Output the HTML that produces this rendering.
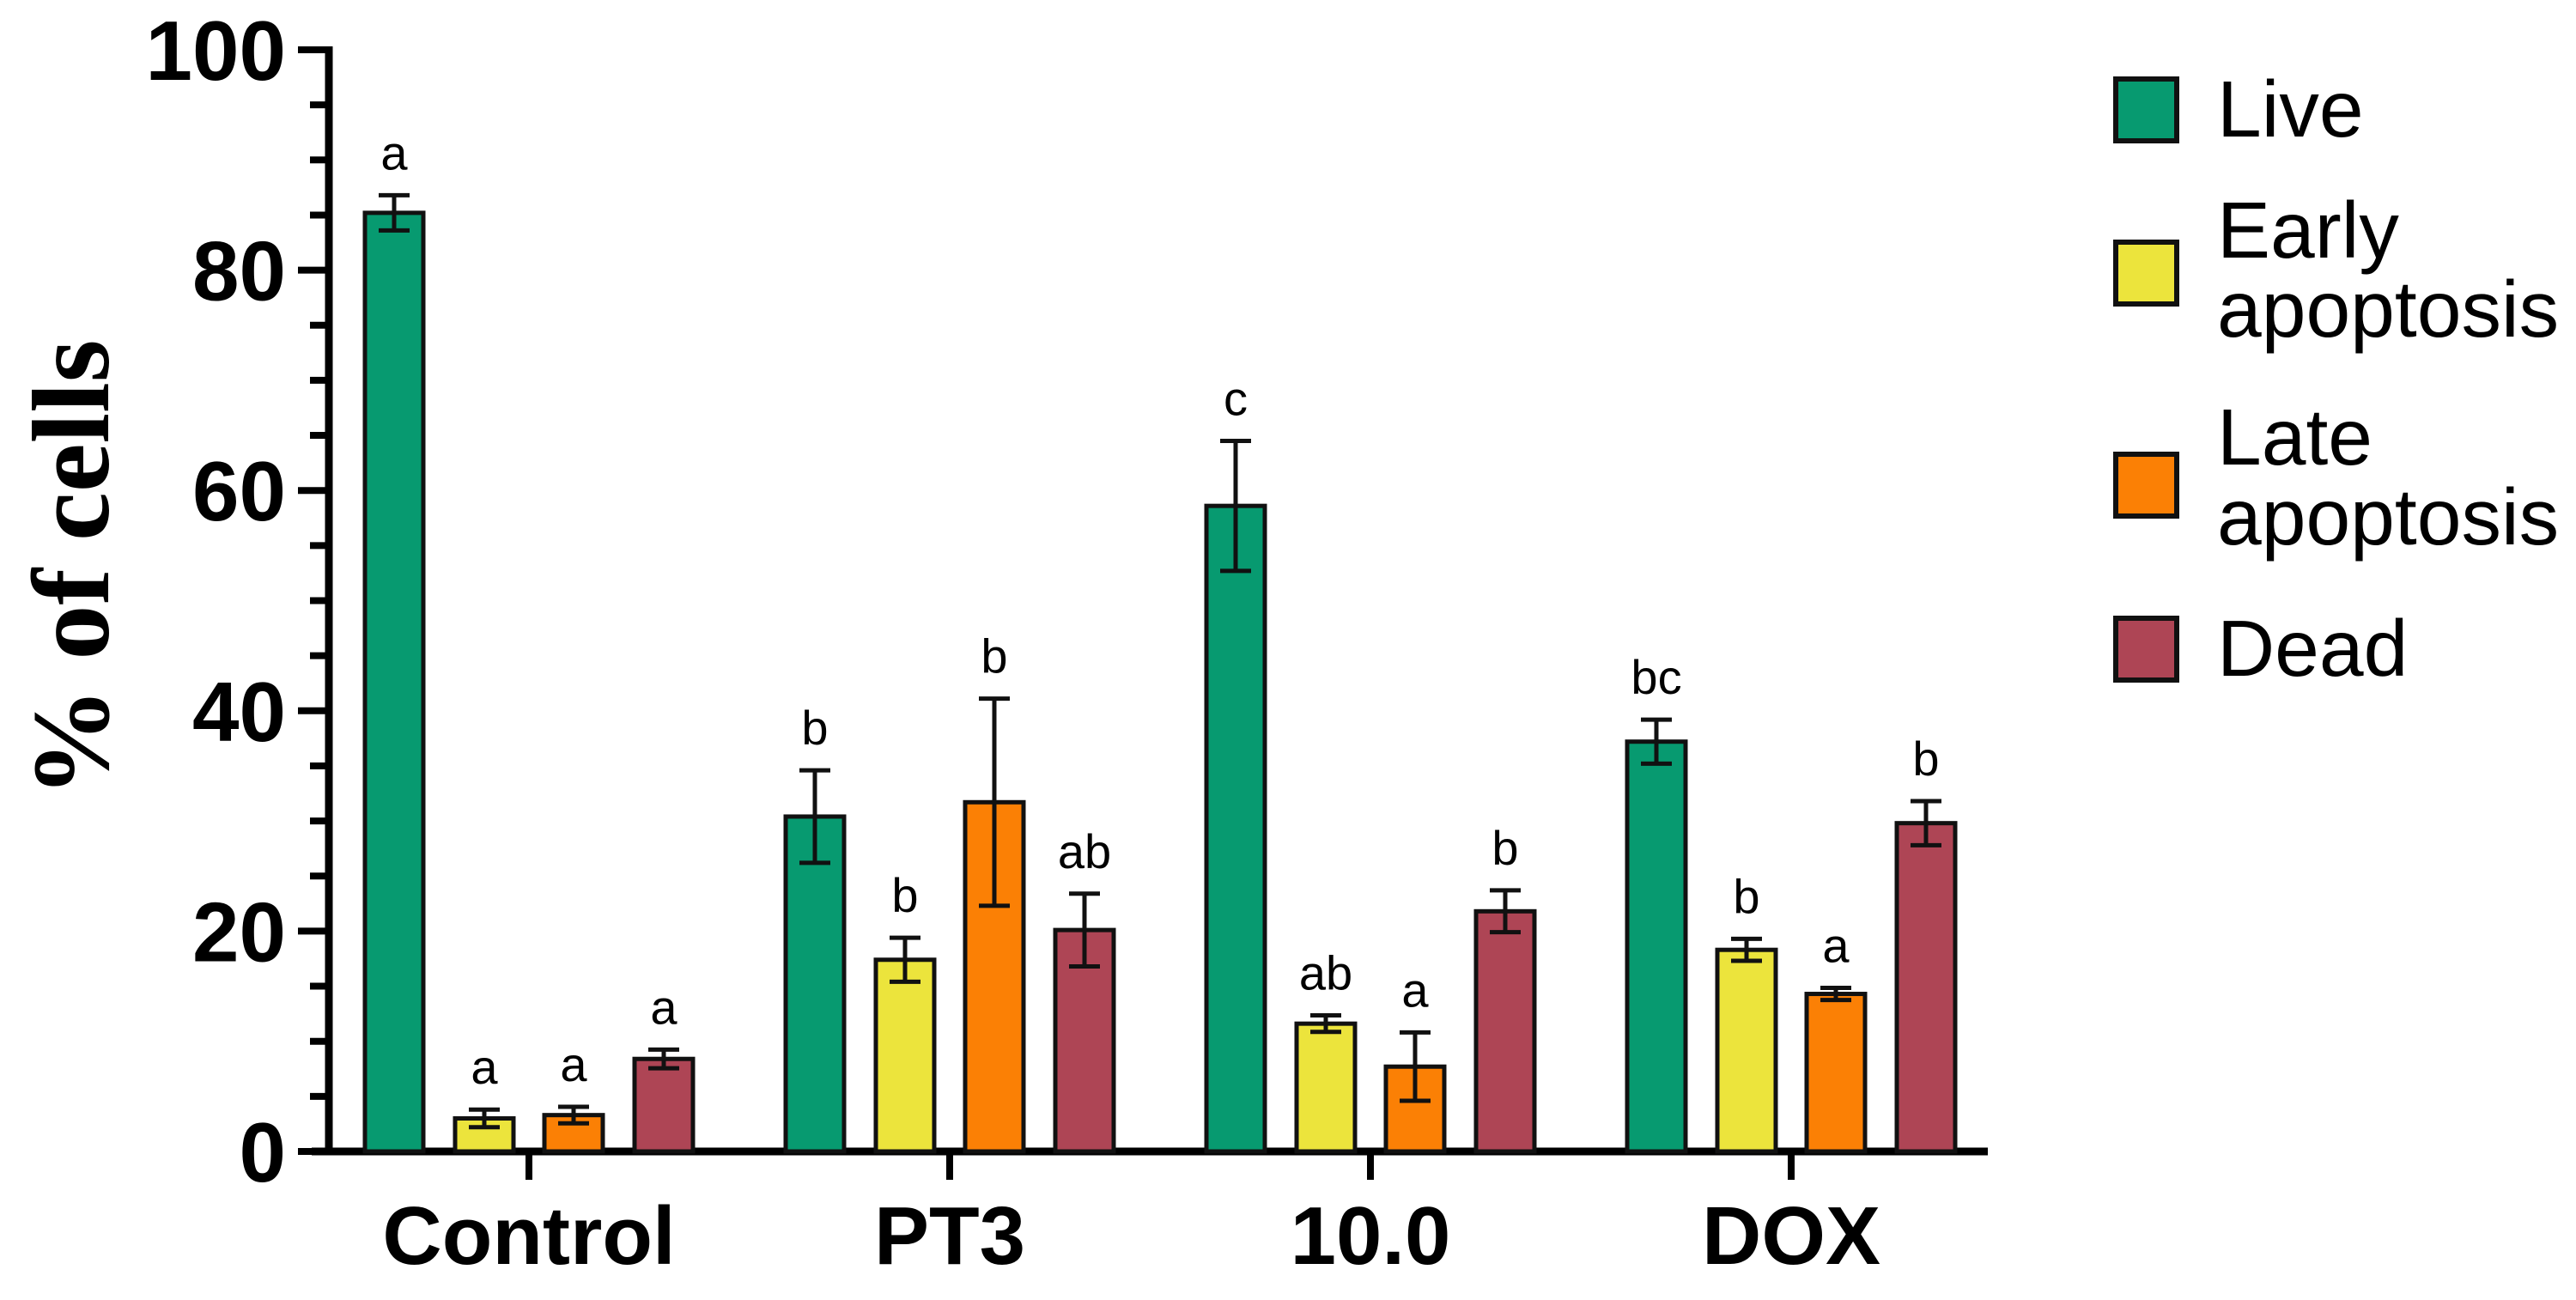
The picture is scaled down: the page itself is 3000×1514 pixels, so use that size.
<!DOCTYPE html>
<html><head><meta charset="utf-8"><style>
html,body{margin:0;padding:0;background:#fff;}
svg{display:block;}
</style></head><body>
<svg id="chart" width="3000" height="1514" viewBox="0 0 3000 1514" xmlns="http://www.w3.org/2000/svg">
<text transform="translate(126,662) rotate(-90)" text-anchor="middle" font-family="Liberation Serif, serif" font-weight="bold" font-size="128" fill="#000">% of cells</text>
<g id="axes"></g>
<g id="bars"></g>
<g id="legend"></g>
</svg>
<script>
const categories = ["Control","PT3","10.0","DOX"];
const seriesNames = ["Live","Early apoptosis","Late apoptosis","Dead"];
const live  = [85.2, 30.4, 58.6, 37.2];
const early = [3.0, 17.4, 11.6, 18.3];
const late  = [3.3, 31.7, 7.7, 14.3];
const dead  = [8.4, 20.1, 21.8, 29.8];
const liveErr  = [1.6, 4.2, 5.9, 2.0];
const earlyErr = [0.8, 2.0, 0.75, 1.0];
const lateErr  = [0.75, 9.4, 3.1, 0.55];
const deadErr  = [0.85, 3.3, 1.9, 2.0];
const liveLetters  = ["a","b","c","bc"];
const earlyLetters = ["a","b","ab","b"];
const lateLetters  = ["a","b","a","a"];
const deadLetters  = ["a","ab","b","b"];
const yTicks = [0,20,40,60,80,100];

const NS="http://www.w3.org/2000/svg";
const colors=["#079a70","#ece43c","#fb8005","#ae4555"];
const Y0=1341, Y100=58, AX=383;
function y(v){return Y0-(Y0-Y100)*v/100;}
function gx(i){return 616+i*490;}
const offs=[-157,-52,52,157], BW=68;
function el(tag,attrs,parent,txt){const e=document.createElementNS(NS,tag);for(const k in attrs)e.setAttribute(k,attrs[k]);if(txt!==undefined)e.textContent=txt;parent.appendChild(e);return e;}
const axes=document.getElementById('axes'), bars=document.getElementById('bars'), legend=document.getElementById('legend');

let ya=el('line',{x1:AX,y1:Y100-4,x2:AX,y2:Y0+4,stroke:'#000','stroke-width':9},axes);


for(let v=0;v<=100;v+=5){
  const major=v%20===0;
  const t=el('line',{x1:AX-(major?36:22),y1:y(v),x2:AX,y2:y(v),stroke:'#000','stroke-width':8},axes);
  
  
}
yTicks.forEach(v=>{
  const t=el('text',{x:AX-50,y:y(v)+35,'text-anchor':'end','font-family':'Liberation Sans, sans-serif','font-weight':'bold','font-size':98,fill:'#000'},axes,String(v));
  
  
});
let xa=el('line',{x1:363,y1:Y0,x2:2315,y2:Y0,stroke:'#000','stroke-width':9},axes);


categories.forEach((c,i)=>{
  const t=el('line',{x1:gx(i),y1:Y0,x2:gx(i),y2:Y0+33,stroke:'#000','stroke-width':8},axes);
  
  
  const l=el('text',{x:gx(i),y:1472,'text-anchor':'middle','font-family':'Liberation Sans, sans-serif','font-weight':'bold','font-size':96,fill:'#000'},axes,c);
  
  
});
const series=[live,early,late,dead], errs=[liveErr,earlyErr,lateErr,deadErr], letters=[liveLetters,earlyLetters,lateLetters,deadLetters];
const keys=['live','early','late','dead'];
categories.forEach((c,i)=>{
  series.forEach((s,j)=>{
    const cx=gx(i)+offs[j], v=s[i], e=errs[j][i];
    const r=el('rect',{x:cx-BW/2,y:y(v),width:BW,height:Y0-y(v),fill:colors[j],stroke:'#111','stroke-width':5},bars);
    
    
    const g=el('path',{d:`M${cx},${y(v+e)}V${y(v-e)}M${cx-18},${y(v+e)}H${cx+18}M${cx-18},${y(v-e)}H${cx+18}`,stroke:'#111','stroke-width':5,fill:'none'},bars);
    
    
    const lt=el('text',{x:cx,y:y(v+e)-30,'text-anchor':'middle','font-family':'Liberation Sans, sans-serif','font-size':56,fill:'#000'},bars,letters[j][i]);
    
    
  });
});
const boxY=[92,282,529,720];
const textLines=[[["Live",159]],[["Early",300],["apoptosis",392]],[["Late",541],["apoptosis",634]],[["Dead",787]]];
seriesNames.forEach((n,j)=>{
  const b=el('rect',{x:2464,y:boxY[j],width:71,height:72,fill:colors[j],stroke:'#111','stroke-width':6},legend);
  
  
  textLines[j].forEach(([t,by])=>{
    const tx=el('text',{x:2582,y:by,'font-family':'Liberation Sans, sans-serif','font-size':93,fill:'#000'},legend,t);
    
    
  });
});
</script>
</body></html>
